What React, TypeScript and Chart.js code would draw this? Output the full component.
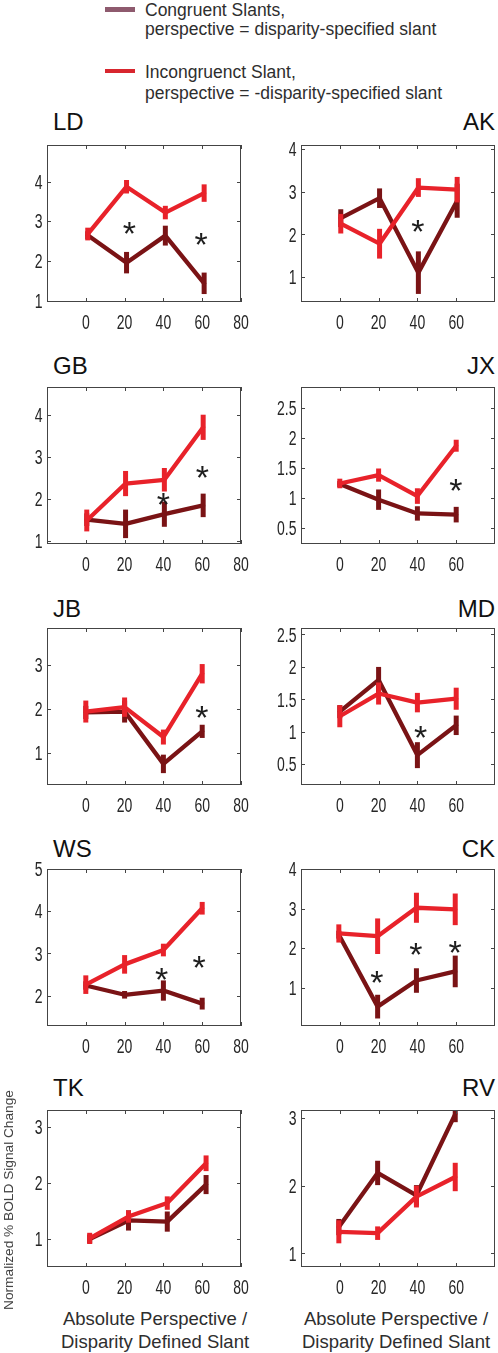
import React, { useEffect, useRef } from "react";
import { Chart, registerables } from "chart.js";

Chart.register(...registerables);

// ---------- data ----------
const SLANTS = [0, 20, 40, 60];
const X_TICKS_LEFT = [0, 20, 40, 60, 80];
const X_TICKS_RIGHT = [0, 20, 40, 60];

const LD_INC = [2.68, 3.87, 3.22, 3.71];
const LD_INC_ERR = [0.16, 0.17, 0.17, 0.22];
const LD_CON = [2.65, 1.96, 2.64, 1.44];
const LD_CON_ERR = [0.1, 0.27, 0.25, 0.27];
const LD_Y_RANGE = [0.97, 4.92];
const LD_Y_TICKS = [1, 2, 3, 4];
const LD_STAR_X = [22.4, 59.5];
const LD_STAR_Y = [2.89, 2.62];

const AK_INC = [2.25, 1.78, 3.1, 3.05];
const AK_INC_ERR = [0.23, 0.35, 0.22, 0.3];
const AK_CON = [2.38, 2.85, 1.1, 2.79];
const AK_CON_ERR = [0.21, 0.23, 0.5, 0.4];
const AK_Y_RANGE = [0.41, 4.1];
const AK_Y_TICKS = [1, 2, 3, 4];
const AK_STAR_X = [40.2];
const AK_STAR_Y = [2.26];

const GB_INC = [1.49, 2.37, 2.46, 3.71];
const GB_INC_ERR = [0.26, 0.3, 0.28, 0.3];
const GB_CON = [1.51, 1.41, 1.64, 1.85];
const GB_CON_ERR = [0.15, 0.34, 0.3, 0.28];
const GB_Y_RANGE = [0.93, 4.67];
const GB_Y_TICKS = [1, 2, 3, 4];
const GB_STAR_X = [40, 60.1];
const GB_STAR_Y = [2.07, 2.7];

const JX_INC = [1.24, 1.38, 1.03, 1.87];
const JX_INC_ERR = [0.08, 0.11, 0.13, 0.1];
const JX_CON = [1.23, 0.97, 0.74, 0.72];
const JX_CON_ERR = [0.05, 0.17, 0.12, 0.13];
const JX_Y_RANGE = [0.23, 2.85];
const JX_Y_TICKS = [0.5, 1, 1.5, 2, 2.5];
const JX_STAR_X = [59.8];
const JX_STAR_Y = [1.25];

const JB_INC = [1.94, 2.04, 1.36, 2.8];
const JB_INC_ERR = [0.25, 0.22, 0.17, 0.22];
const JB_CON = [1.92, 1.94, 0.75, 1.49];
const JB_CON_ERR = [0.15, 0.25, 0.21, 0.15];
const JB_Y_RANGE = [0.27, 3.84];
const JB_Y_TICKS = [1, 2, 3];
const JB_STAR_X = [59.8];
const JB_STAR_Y = [1.98];

const MD_INC = [1.24, 1.59, 1.45, 1.51];
const MD_INC_ERR = [0.17, 0.17, 0.15, 0.17];
const MD_CON = [1.31, 1.8, 0.64, 1.1];
const MD_CON_ERR = [0.1, 0.2, 0.2, 0.15];
const MD_Y_RANGE = [0.18, 2.6];
const MD_Y_TICKS = [0.5, 1, 1.5, 2, 2.5];
const MD_STAR_X = [41.6];
const MD_STAR_Y = [1.04];

const WS_INC = [2.26, 2.74, 3.08, 4.07];
const WS_INC_ERR = [0.22, 0.22, 0.15, 0.15];
const WS_CON = [2.24, 2.02, 2.12, 1.81];
const WS_CON_ERR = [0.1, 0.09, 0.24, 0.14];
const WS_Y_RANGE = [1.28, 5.0];
const WS_Y_TICKS = [2, 3, 4, 5];
const WS_STAR_X = [39.1, 58.4];
const WS_STAR_Y = [2.56, 2.86];

const CK_INC = [2.37, 2.3, 3.02, 2.98];
const CK_INC_ERR = [0.23, 0.45, 0.38, 0.4];
const CK_CON = [2.34, 0.52, 1.18, 1.41];
const CK_CON_ERR = [0.1, 0.3, 0.31, 0.4];
const CK_Y_RANGE = [0.03, 4.0];
const CK_Y_TICKS = [1, 2, 3, 4];
const CK_STAR_X = [19.1, 39.2, 59.4];
const CK_STAR_Y = [1.32, 2.03, 2.09];

const TK_INC = [1.01, 1.4, 1.64, 2.35];
const TK_INC_ERR = [0.1, 0.11, 0.12, 0.14];
const TK_CON = [1.0, 1.33, 1.31, 1.97];
const TK_CON_ERR = [0.08, 0.18, 0.18, 0.17];
const TK_Y_RANGE = [0.5, 3.3];
const TK_Y_TICKS = [1, 2, 3];
const TK_STAR_X: number[] = [];
const TK_STAR_Y: number[] = [];

const RV_INC = [1.32, 1.3, 1.84, 2.13];
const RV_INC_ERR = [0.17, 0.1, 0.16, 0.21];
const RV_CON = [1.39, 2.19, 1.86, 3.06];
const RV_CON_ERR = [0.12, 0.18, 0.15, 0.12];
const RV_Y_RANGE = [0.8, 3.12];
const RV_Y_TICKS = [1, 2, 3];
const RV_STAR_X: number[] = [];
const RV_STAR_Y: number[] = [];

// small horizontal jitter of the plotted points (in degrees of slant)
const X_SHIFTS = [1, 0.5, 0.5, 0, 0, 0, 0, -0.5, 2, -0.5];

const PANEL_NAMES = ["LD", "AK", "GB", "JX", "JB", "MD", "WS", "CK", "TK", "RV"];

const LEGEND_LABELS = [
  ["Congruent Slants,", "perspective = disparity-specified slant"],
  ["Incongruenct Slant,", "perspective = -disparity-specified slant"],
];
const Y_AXIS_LABEL = "Normalized % BOLD Signal Change";
const X_AXIS_LABEL = ["Absolute Perspective /", "Disparity Defined Slant"];

// ---------- table built from the arrays ----------
const PANELS = [
  { inc: LD_INC, incErr: LD_INC_ERR, con: LD_CON, conErr: LD_CON_ERR, yr: LD_Y_RANGE, yt: LD_Y_TICKS, sx: LD_STAR_X, sy: LD_STAR_Y },
  { inc: AK_INC, incErr: AK_INC_ERR, con: AK_CON, conErr: AK_CON_ERR, yr: AK_Y_RANGE, yt: AK_Y_TICKS, sx: AK_STAR_X, sy: AK_STAR_Y },
  { inc: GB_INC, incErr: GB_INC_ERR, con: GB_CON, conErr: GB_CON_ERR, yr: GB_Y_RANGE, yt: GB_Y_TICKS, sx: GB_STAR_X, sy: GB_STAR_Y },
  { inc: JX_INC, incErr: JX_INC_ERR, con: JX_CON, conErr: JX_CON_ERR, yr: JX_Y_RANGE, yt: JX_Y_TICKS, sx: JX_STAR_X, sy: JX_STAR_Y },
  { inc: JB_INC, incErr: JB_INC_ERR, con: JB_CON, conErr: JB_CON_ERR, yr: JB_Y_RANGE, yt: JB_Y_TICKS, sx: JB_STAR_X, sy: JB_STAR_Y },
  { inc: MD_INC, incErr: MD_INC_ERR, con: MD_CON, conErr: MD_CON_ERR, yr: MD_Y_RANGE, yt: MD_Y_TICKS, sx: MD_STAR_X, sy: MD_STAR_Y },
  { inc: WS_INC, incErr: WS_INC_ERR, con: WS_CON, conErr: WS_CON_ERR, yr: WS_Y_RANGE, yt: WS_Y_TICKS, sx: WS_STAR_X, sy: WS_STAR_Y },
  { inc: CK_INC, incErr: CK_INC_ERR, con: CK_CON, conErr: CK_CON_ERR, yr: CK_Y_RANGE, yt: CK_Y_TICKS, sx: CK_STAR_X, sy: CK_STAR_Y },
  { inc: TK_INC, incErr: TK_INC_ERR, con: TK_CON, conErr: TK_CON_ERR, yr: TK_Y_RANGE, yt: TK_Y_TICKS, sx: TK_STAR_X, sy: TK_STAR_Y },
  { inc: RV_INC, incErr: RV_INC_ERR, con: RV_CON, conErr: RV_CON_ERR, yr: RV_Y_RANGE, yt: RV_Y_TICKS, sx: RV_STAR_X, sy: RV_STAR_Y },
];

// ---------- layout & style ----------
const FONT = "'Liberation Sans', Arial, Helvetica, sans-serif";
const RED = "#e8222a";
const DARK = "#7a1315";
const LEGEND_CON = "#8e5a6e";
const LEGEND_INC = "#d8262e";
const TEXT = "#262626";

const COL_X = [47, 301];
const ROW_Y = [145, 387, 628, 869, 1110];
const TITLE_CAP_TOP = [113, 357, 600, 840, 1079];
const BOX_W = 194;
const BOX_H = 157;
const PAD_L = 44;
const PAD_R_COL = [16, 3];
const PAD_T = 8;
const PAD_B = 36;

function fmt(v: number) {
  return String(v);
}

function Panel({ idx }: { idx: number }) {
  const ref = useRef<HTMLCanvasElement>(null);
  const col = idx % 2;
  const row = Math.floor(idx / 2);
  const PAD_R = PAD_R_COL[col];
  const W = BOX_W + PAD_L + PAD_R;
  const H = BOX_H + PAD_T + PAD_B;

  useEffect(() => {
    const p = PANELS[idx];
    const shift = X_SHIFTS[idx];
    const xTicks = col === 0 ? X_TICKS_LEFT : X_TICKS_RIGHT;
    const errs = [p.incErr, p.conErr];
    const vals = [p.inc, p.con];
    const colors = [RED, DARK];

    const plugin = {
      id: "matlabStyle",
      afterDatasetDraw(chart: any, args: any) {
        const i = args.index;
        const ctx = chart.ctx;
        const a = chart.chartArea;
        const xs = chart.scales.x;
        const ys = chart.scales.y;
        ctx.save();
        ctx.beginPath();
        ctx.rect(a.left, a.top, a.right - a.left, a.bottom - a.top);
        ctx.clip();
        ctx.strokeStyle = colors[i];
        ctx.lineWidth = 5;
        ctx.lineCap = "butt";
        SLANTS.forEach((s, k) => {
          const px = xs.getPixelForValue(s + shift);
          const y1 = ys.getPixelForValue(vals[i][k] - errs[i][k]);
          const y2 = ys.getPixelForValue(vals[i][k] + errs[i][k]);
          ctx.beginPath();
          ctx.moveTo(px, y1);
          ctx.lineTo(px, y2);
          ctx.stroke();
        });
        ctx.restore();
      },
      afterDraw(chart: any) {
        const ctx = chart.ctx;
        const a = chart.chartArea;
        const xs = chart.scales.x;
        const ys = chart.scales.y;
        ctx.save();
        // frame
        ctx.strokeStyle = "#444";
        ctx.lineWidth = 1;
        ctx.strokeRect(a.left + 0.5, a.top + 0.5, a.right - a.left - 1, a.bottom - a.top - 1);
        // tick marks
        ctx.beginPath();
        xTicks.forEach((t) => {
          const px = Math.round(xs.getPixelForValue(t)) + 0.5;
          ctx.moveTo(px, a.bottom);
          ctx.lineTo(px, a.bottom - 4);
          ctx.moveTo(px, a.top);
          ctx.lineTo(px, a.top + 4);
        });
        p.yt.forEach((t) => {
          const py = Math.round(ys.getPixelForValue(t)) + 0.5;
          ctx.moveTo(a.left, py);
          ctx.lineTo(a.left + 4, py);
          ctx.moveTo(a.right, py);
          ctx.lineTo(a.right - 4, py);
        });
        ctx.stroke();
        // tick labels (narrow MATLAB-like font)
        const fs = 20;
        ctx.fillStyle = TEXT;
        ctx.font = `${fs}px ${FONT}`;
        ctx.textBaseline = "alphabetic";
        xTicks.forEach((t) => {
          const px = xs.getPixelForValue(t);
          ctx.save();
          ctx.translate(px, a.bottom + 19.5 + 0.358 * fs);
          ctx.scale(0.7, 1);
          ctx.textAlign = "center";
          ctx.fillText(fmt(t), 0, 0);
          ctx.restore();
        });
        p.yt.forEach((t) => {
          const py = ys.getPixelForValue(t);
          ctx.save();
          ctx.translate(a.left - 4.5, py + 0.358 * fs);
          ctx.scale(0.7, 1);
          ctx.textAlign = "right";
          ctx.fillText(fmt(t), 0, 0);
          ctx.restore();
        });
        // significance asterisks
        const sf = 34;
        ctx.font = `${sf}px ${FONT}`;
        ctx.fillStyle = "#1e1e1e";
        ctx.textAlign = "center";
        p.sx.forEach((x, k) => {
          const px = xs.getPixelForValue(x);
          const py = ys.getPixelForValue(p.sy[k]);
          ctx.fillText("*", px, py + 0.573 * sf);
        });
        ctx.restore();
      },
    };

    const mk = (v: number[]) => SLANTS.map((s, k) => ({ x: s + shift, y: v[k] }));

    const chart = new Chart(ref.current as HTMLCanvasElement, {
      type: "line",
      data: {
        datasets: [
          {
            data: mk(p.inc),
            borderColor: RED,
            backgroundColor: RED,
            borderWidth: 4.3,
            pointRadius: 0,
            tension: 0,
            fill: false,
            borderJoinStyle: "round",
            borderCapStyle: "round",
          },
          {
            data: mk(p.con),
            borderColor: DARK,
            backgroundColor: DARK,
            borderWidth: 4.3,
            pointRadius: 0,
            tension: 0,
            fill: false,
            borderJoinStyle: "round",
            borderCapStyle: "round",
          },
        ],
      },
      options: {
        animation: false,
        responsive: false,
        events: [],
        layout: { padding: { left: PAD_L, right: PAD_R, top: PAD_T, bottom: PAD_B } },
        plugins: {
          legend: { display: false },
          tooltip: { enabled: false },
          title: { display: false },
        },
        scales: {
          x: { type: "linear", min: -20, max: 80, display: false },
          y: { type: "linear", min: p.yr[0], max: p.yr[1], display: false },
        },
      },
      plugins: [plugin],
    } as any);
    return () => chart.destroy();
  }, [idx]);

  return (
    <canvas
      ref={ref}
      width={W}
      height={H}
      style={{
        position: "absolute",
        left: COL_X[col] - PAD_L,
        top: ROW_Y[row] - PAD_T,
        width: W,
        height: H,
        display: "block",
      }}
    />
  );
}

export default function App() {
  const titleFs = 24;
  const legFs = 17.5;
  const legendTops = [1.7, 21.0, 64.4, 85.0];
  const legendLines = [LEGEND_LABELS[0][0], LEGEND_LABELS[0][1], LEGEND_LABELS[1][0], LEGEND_LABELS[1][1]];
  const xlFs = 18.5;
  return (
    <div
      style={{
        position: "absolute",
        left: 0,
        top: 0,
        width: 498,
        height: 1353,
        overflow: "hidden",
        background: "#fff",
        fontFamily: FONT,
        color: TEXT,
      }}
    >
      {/* legend */}
      <div style={{ position: "absolute", left: 105, top: 7.3, width: 30, height: 4.3, background: LEGEND_CON }} />
      <div style={{ position: "absolute", left: 105, top: 69.2, width: 30, height: 4.3, background: LEGEND_INC }} />
      {legendLines.map((t, i) => (
        <div
          key={i}
          style={{
            position: "absolute",
            left: 145,
            top: legendTops[i],
            fontSize: legFs,
            lineHeight: `${legFs}px`,
            whiteSpace: "nowrap",
            color: "#2e2e2e",
          }}
        >
          {t}
        </div>
      ))}

      {/* panel titles */}
      {PANEL_NAMES.map((n, i) => {
        const col = i % 2;
        const row = Math.floor(i / 2);
        const top = TITLE_CAP_TOP[row] - 0.1305 * titleFs;
        return (
          <div
            key={n}
            style={{
              position: "absolute",
              top,
              fontSize: titleFs,
              lineHeight: `${titleFs}px`,
              color: "#111",
              whiteSpace: "nowrap",
              ...(col === 0 ? { left: 53 } : { right: 3, textAlign: "right" as const }),
            }}
          >
            {n}
          </div>
        );
      })}

      {PANEL_NAMES.map((n, i) => (
        <Panel key={n} idx={i} />
      ))}

      {/* y-axis label */}
      <div
        style={{
          position: "absolute",
          left: 9 - 130,
          top: 1200 - 8,
          width: 260,
          height: 16,
          lineHeight: "16px",
          fontSize: 13.7,
          textAlign: "center",
          whiteSpace: "nowrap",
          transform: "rotate(-90deg)",
          transformOrigin: "50% 50%",
          color: "#444",
        }}
      >
        {Y_AXIS_LABEL}
      </div>

      {/* x-axis labels */}
      {[155, 396].map((cx, i) => (
        <div
          key={i}
          style={{
            position: "absolute",
            left: cx - 120,
            top: 1307.8,
            width: 240,
            textAlign: "center",
            fontSize: xlFs,
            lineHeight: "22.7px",
            whiteSpace: "nowrap",
            color: "#2e2e2e",
          }}
        >
          <div>{X_AXIS_LABEL[0]}</div>
          <div>{X_AXIS_LABEL[1]}</div>
        </div>
      ))}
    </div>
  );
}
